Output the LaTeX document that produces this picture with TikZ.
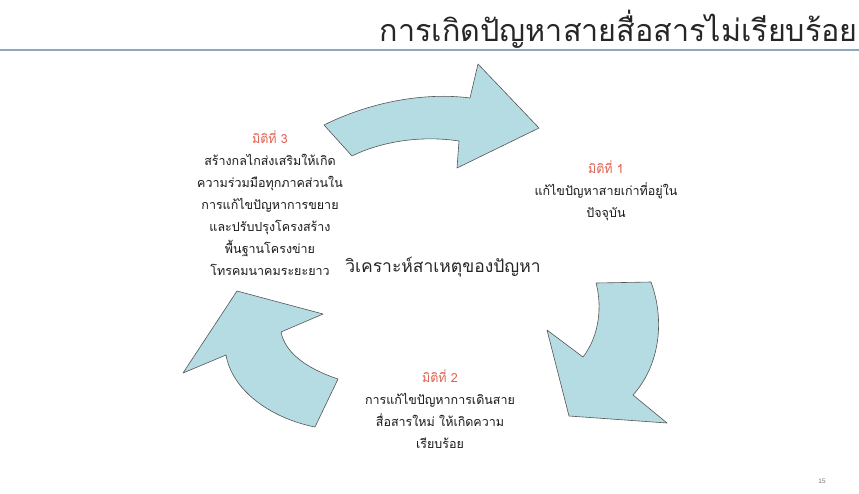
\documentclass[tikz,border=0pt]{standalone}
\usepackage{fontspec}
\newfontfamily\thai[Script=Thai]{Loma}
\setmainfont{Liberation Sans}
\definecolor{arrowfill}{HTML}{B5DCE2}
\definecolor{arrowline}{HTML}{555555}
\definecolor{dimred}{HTML}{E0604F}
\definecolor{rulecol}{HTML}{8FA8BC}
\begin{document}
\begin{tikzpicture}[x=1pt,y=-1pt,
  cyc/.style={fill=arrowfill,draw=arrowline,line width=0.6pt,line join=round},
  dimtxt/.style={align=center,inner sep=0pt,font=\thai\fontsize{12.5}{22}\selectfont,text=black!90}]
\useasboundingbox (0,0) rectangle (859,493);
% title
\node[anchor=east,inner sep=0pt,font=\thai\fontsize{30.5}{34}\selectfont,text=black!85] (title) at (858,29) {การเกิดปัญหาสายสื่อสารไม่เรียบร้อย};
\draw[rulecol,line width=1.6pt] (0,50) -- (859,50);
% top arrow
\draw[cyc] (324,125) .. controls (370,102) and (425,92) .. (470,98)
  -- (478,64) -- (539,128) -- (457,168) -- (459,141)
  .. controls (420,135) and (380,142) .. (352,156) -- cycle;
% right arrow
\draw[cyc] (596,283) -- (651,282)
  .. controls (665,320) and (660,365) .. (633,395)
  -- (667,423) -- (569,416) -- (547,330) -- (583,357)
  .. controls (600,335) and (602,305) .. (596,283);
% left arrow
\draw[cyc] (315,427) -- (338,379)
  .. controls (305,368) and (285,352) .. (281,332)
  -- (323,314) -- (237,291) -- (183,373) -- (226,355)
  .. controls (232,390) and (270,418) .. (315,427);
% texts
\node[dimtxt] (d3) at (270,203) {\textcolor{dimred}{มิติที่ 3}\\สร้างกลไกส่งเสริมให้เกิด\\ความร่วมมือทุกภาคส่วนใน\\การแก้ไขปัญหาการขยาย\\และปรับปรุงโครงสร้าง\\พื้นฐานโครงข่าย\\โทรคมนาคมระยะยาว};
\node[dimtxt] (d1) at (606,191) {\textcolor{dimred}{มิติที่ 1}\\แก้ไขปัญหาสายเก่าที่อยู่ใน\\ปัจจุบัน};
\node[dimtxt] (d2) at (440,409) {\textcolor{dimred}{มิติที่ 2}\\การแก้ไขปัญหาการเดินสาย\\สื่อสารใหม่ ให้เกิดความ\\เรียบร้อย};
\node[inner sep=0pt,font=\thai\fontsize{17.5}{22}\selectfont,text=black!85] (centre) at (443,267) {วิเคราะห์สาเหตุของปัญหา};
\node[inner sep=0pt,font=\fontsize{6.5}{7}\selectfont,text=black!55] (page) at (822,481) {15};
\end{tikzpicture}
\end{document}
